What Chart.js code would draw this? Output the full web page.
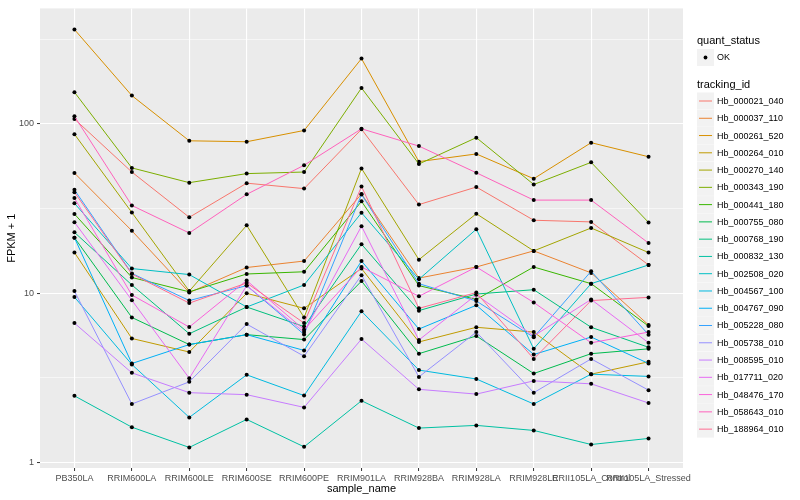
<!DOCTYPE html>
<html>
<head>
<meta charset="utf-8">
<script src="https://cdn.jsdelivr.net/npm/chart.js@4.4.1/dist/chart.umd.min.js"></script>
<style>
  html, body { margin: 0; padding: 0; background: #ffffff; }
  #wrap { width: 800px; height: 500px; }
</style>
</head>
<body>
<div id="wrap"><canvas id="chart" width="800" height="500"></canvas></div>
<script>
// categories on the x axis
const samples = ["PB350LA", "RRIM600LA", "RRIM600LE", "RRIM600SE", "RRIM600PE", "RRIM901LA",
  "RRIM928BA", "RRIM928LA", "RRIM928LE", "RRII105LA_Control", "RRII105LA_Stressed"];

// FPKM + 1 per gene, in sample order
const hb_000021_040 = [107, 52, 28.1, 44.7, 41.5, 93, 33.4, 42.4, 27, 26.4, 14.7];
const hb_000037_110 = [51.3, 23.4, 10.1, 14.2, 15.5, 38.6, 12.3, 14.3, 17.8, 13.2, 6.5];
const hb_000261_520 = [361, 147, 79.5, 78.5, 91.5, 243, 59.9, 66.5, 47.5, 77.5, 64];
const hb_000264_010 = [17.4, 5.41, 4.5, 10, 8.15, 14.0, 5.16, 6.3, 5.9, 3.33, 3.94];
const hb_000270_140 = [87, 30, 10.3, 25.2, 7.2, 54.6, 15.8, 29.5, 17.8, 24.3, 17.4];
const hb_000343_190 = [154, 55, 45, 50.9, 52, 163, 58, 83, 43.9, 59.3, 26.2];
const hb_000441_180 = [29.4, 12.4, 10.2, 13.0, 13.4, 34.9, 11.1, 9.2, 14.3, 11.4, 6.4];
const hb_000755_080 = [21.3, 7.2, 4.98, 5.7, 5.33, 11.8, 4.4, 5.6, 3.36, 4.4, 4.7];
const hb_000768_190 = [22.9, 11.2, 5.77, 8.3, 6.36, 19.5, 7.9, 9.9, 10.5, 6.3, 4.8];
const hb_000832_130 = [2.48, 1.62, 1.23, 1.80, 1.24, 2.32, 1.60, 1.66, 1.55, 1.28, 1.39];
const hb_002508_020 = [34, 14.0, 12.9, 8.3, 11.2, 29.9, 12.1, 23.9, 4.7, 11.4, 14.7];
const hb_004567_100 = [9.5, 3.8, 1.85, 3.3, 2.49, 7.83, 3.52, 3.12, 2.22, 3.33, 3.23];
const hb_004767_090 = [21.3, 3.85, 4.98, 5.7, 4.6, 15.5, 6.15, 8.5, 4.35, 5.52, 3.85];
const hb_005228_080 = [40.8, 13.1, 9.06, 11.1, 5.72, 38.3, 11.4, 9.0, 5.5, 13.5, 5.7];
const hb_005738_010 = [10.3, 2.22, 3.0, 6.58, 4.25, 12.8, 3.21, 5.9, 2.59, 4.1, 2.68];
const hb_008595_010 = [6.67, 3.39, 2.59, 2.52, 2.12, 5.37, 2.71, 2.54, 3.04, 2.92, 2.25];
const hb_017711_020 = [26.3, 9.1, 3.15, 11.1, 5.9, 24.9, 5.3, 9.8, 5.6, 9.2, 5.1];
const hb_048476_170 = [36.5, 9.77, 6.32, 11.9, 6.09, 14.3, 9.6, 14.3, 8.83, 5.1, 5.9];
const hb_058643_010 = [111, 33, 22.7, 38.4, 57, 93.6, 74, 51.5, 35.5, 35.5, 19.8];
const hb_188964_010 = [39.5, 13.0, 8.75, 11.5, 6.67, 42.7, 8.15, 10.1, 4.1, 9.06, 9.46];

const trackingIds = ["Hb_000021_040", "Hb_000037_110", "Hb_000261_520", "Hb_000264_010",
  "Hb_000270_140", "Hb_000343_190", "Hb_000441_180", "Hb_000755_080", "Hb_000768_190",
  "Hb_000832_130", "Hb_002508_020", "Hb_004567_100", "Hb_004767_090", "Hb_005228_080",
  "Hb_005738_010", "Hb_008595_010", "Hb_017711_020", "Hb_048476_170", "Hb_058643_010",
  "Hb_188964_010"];
const seriesValues = [hb_000021_040, hb_000037_110, hb_000261_520, hb_000264_010,
  hb_000270_140, hb_000343_190, hb_000441_180, hb_000755_080, hb_000768_190,
  hb_000832_130, hb_002508_020, hb_004567_100, hb_004767_090, hb_005228_080,
  hb_005738_010, hb_008595_010, hb_017711_020, hb_048476_170, hb_058643_010,
  hb_188964_010];

// ggplot hue palette, 20 levels
const colors = ["#F8766D", "#EA8331", "#D89000", "#C09B00", "#A3A500", "#7CAE00", "#39B600",
  "#00BB4E", "#00BF7D", "#00C1A3", "#00BFC4", "#00BAE0", "#00B0F6", "#35A2FF", "#9590FF",
  "#C77CFF", "#E76BF3", "#FA62DB", "#FF62BC", "#FF6C91"];

// y axis ticks (log10), minor ones get a thin grid line only
const yMajorTicks = [1, 10, 100];
const yMinorTicks = [3.1623, 31.623, 316.23];

const FONT = '"Liberation Sans", Arial, sans-serif';

const datasets = seriesValues.map((vals, i) => ({
  label: trackingIds[i],
  data: vals.map((v, j) => ({ x: j, y: v })),
  borderColor: colors[i],
  borderWidth: 1,
  backgroundColor: '#000000',
  pointBackgroundColor: '#000000',
  pointBorderWidth: 0,
  pointRadius: 2,
  fill: false,
  tension: 0,
  order: seriesValues.length - i
}));

// grey panel like ggplot
const panelBg = {
  id: 'panelBg',
  beforeDraw(chart) {
    const a = chart.chartArea;
    const c = chart.ctx;
    c.save();
    c.fillStyle = '#EBEBEB';
    c.fillRect(a.left, a.top, a.right - a.left, a.bottom - a.top);
    c.restore();
  }
};

// legend drawn on the right in ggplot style
const ggLegend = {
  id: 'ggLegend',
  afterDraw(chart) {
    const c = chart.ctx;
    const x0 = 697;
    c.save();
    c.textAlign = 'left';
    c.textBaseline = 'middle';
    c.fillStyle = '#000000';
    c.font = '11px ' + FONT;
    c.fillText('quant_status', x0, 41);
    c.fillStyle = '#F2F2F2';
    c.fillRect(x0, 49, 17, 17);
    c.fillStyle = '#000000';
    c.beginPath();
    c.arc(x0 + 8.5, 57.5, 1.9, 0, Math.PI * 2);
    c.fill();
    c.font = '9px ' + FONT;
    c.fillText('OK', x0 + 20, 58);

    c.font = '11px ' + FONT;
    c.fillText('tracking_id', x0, 85);
    c.font = '9px ' + FONT;
    chart.data.datasets.forEach((ds, i) => {
      const y = 92.5 + i * 17.27;
      c.fillStyle = '#F2F2F2';
      c.fillRect(x0, y, 17, 17);
      c.strokeStyle = ds.borderColor;
      c.lineWidth = 1;
      c.beginPath();
      c.moveTo(x0 + 2, y + 8.5);
      c.lineTo(x0 + 15, y + 8.5);
      c.stroke();
      c.fillStyle = '#000000';
      c.fillText(ds.label, x0 + 20, y + 9);
    });
    c.restore();
  }
};

const ctx = document.getElementById('chart').getContext('2d');
const chart = new Chart(ctx, {
  type: 'line',
  data: { datasets },
  options: {
    responsive: false,
    animation: false,
    events: [],
    layout: { padding: { left: 0, right: 117, top: 5, bottom: 0 } },
    plugins: {
      legend: { display: false },
      tooltip: { enabled: false }
    },
    scales: {
      x: {
        type: 'linear',
        min: -0.6,
        max: 10.6,
        afterBuildTicks: s => { s.ticks = samples.map((_, i) => ({ value: i })); },
        afterFit: s => { s.height = 32; },
        ticks: {
          autoSkip: false,
          maxRotation: 0,
          minRotation: 0,
          padding: 2,
          color: '#4D4D4D',
          font: { family: FONT, size: 9 },
          callback: v => samples[v]
        },
        grid: {
          color: '#FFFFFF',
          lineWidth: 1.1,
          tickLength: 3,
          tickColor: '#333333',
          tickWidth: 1
        },
        border: { display: false },
        title: {
          display: true,
          text: 'sample_name',
          color: '#000000',
          font: { family: FONT, size: 11 },
          padding: { top: 0, bottom: 4.5 }
        }
      },
      y: {
        type: 'logarithmic',
        min: 0.93,
        max: 481,
        afterBuildTicks: s => {
          s.ticks = yMajorTicks.concat(yMinorTicks).sort((a, b) => a - b).map(v => ({ value: v }));
        },
        afterFit: s => { s.width = 40; },
        ticks: {
          padding: 3,
          color: '#4D4D4D',
          font: { family: FONT, size: 9 },
          callback: v => yMajorTicks.includes(v) ? String(v) : ''
        },
        grid: {
          color: '#FFFFFF',
          lineWidth: c => yMajorTicks.includes(c.tick.value) ? 1.1 : 0.55,
          tickLength: 3,
          tickColor: c => yMajorTicks.includes(c.tick.value) ? '#333333' : 'rgba(0,0,0,0)',
          tickWidth: 1
        },
        border: { display: false },
        title: {
          display: true,
          text: 'FPKM + 1',
          color: '#000000',
          font: { family: FONT, size: 11 },
          padding: { top: 5, bottom: 0 }
        }
      }
    }
  },
  plugins: [panelBg, ggLegend]
});
</script>
</body>
</html>
